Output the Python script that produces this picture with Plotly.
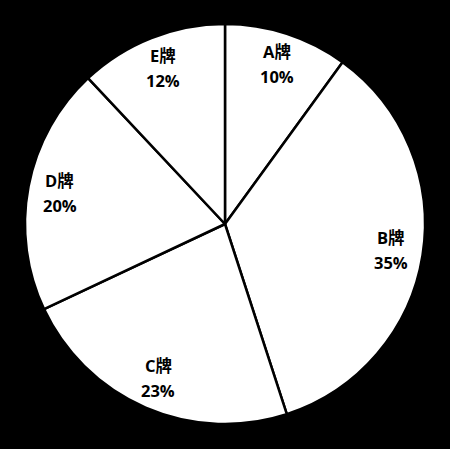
import math
import plotly.graph_objects as go

brands = ["A牌", "B牌", "C牌", "D牌", "E牌"]
shares = [10, 35, 23, 20, 12]

W, H = 450, 449
cx, cy, R = 225, 224, 200

dom_x = [(cx - R) / W, (cx + R) / W]
dom_y = [(H - (cy + R)) / H, (H - (cy - R)) / H]

fig = go.Figure(go.Pie(
    labels=brands,
    values=shares,
    sort=False,
    direction="clockwise",
    rotation=0,
    textinfo="none",
    hoverinfo="label+percent",
    marker=dict(colors=["white"] * len(brands), line=dict(color="black", width=2.5)),
    domain=dict(x=dom_x, y=dom_y),
    showlegend=False,
))

font = dict(family="'Open Sans', 'Noto Sans CJK SC', sans-serif", size=16.5, color="black")
total = sum(shares)
cum = 0
annotations = []
for name, v in zip(brands, shares):
    mid = (cum + v / 2) / total * 2 * math.pi
    cum += v
    px = cx + 0.84 * R * math.sin(mid)
    py = cy - 0.84 * R * math.cos(mid)
    xp = px / W
    yp = 1 - py / H
    pct = f"{round(v / total * 100)}%"
    annotations.append(dict(x=xp, y=yp, xref="paper", yref="paper", text=f"<b>{name}</b>",
                            showarrow=False, font=font, yshift=12.5, xanchor="center", yanchor="middle"))
    annotations.append(dict(x=xp, y=yp, xref="paper", yref="paper", text=f"<b>{pct}</b>",
                            showarrow=False, font=font, yshift=-12.5, xanchor="center", yanchor="middle"))

fig.update_layout(
    width=W, height=H,
    margin=dict(l=0, r=0, t=0, b=0),
    paper_bgcolor="black",
    plot_bgcolor="black",
    annotations=annotations,
)

fig.write_html(
    "out.html",
    config={"displayModeBar": False},
    post_script="document.body.style.margin='0';document.body.style.background='black';",
)
